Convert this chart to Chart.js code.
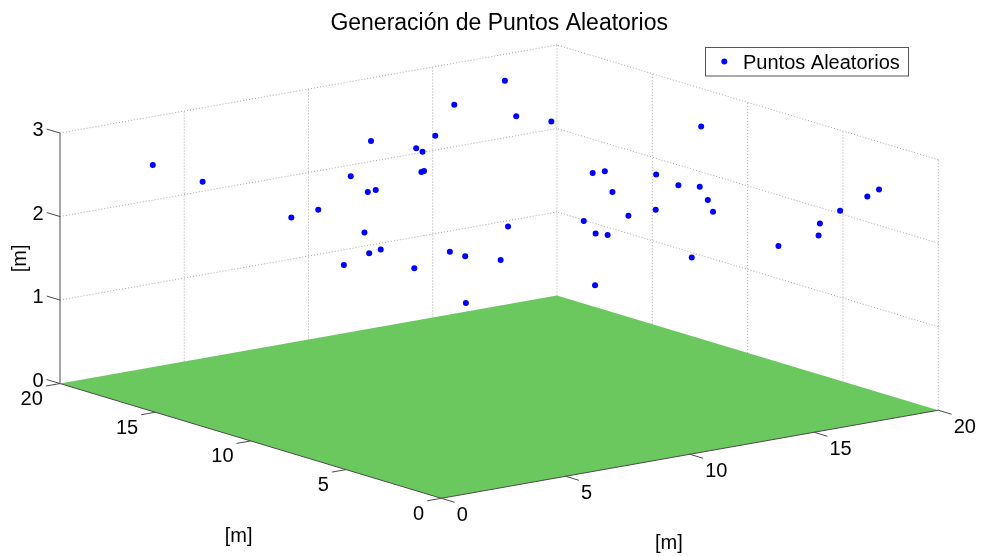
<!DOCTYPE html>
<html>
<head>
<meta charset="utf-8">
<title>Generación de Puntos Aleatorios</title>
<script src="https://cdn.jsdelivr.net/npm/chart.js@4.4.1/dist/chart.umd.min.js"></script>
<style>
    html, body { margin: 0; padding: 0; background: #fff; }
</style>
</head>
<body>
<canvas id="puntos" width="985" height="556"></canvas>
<script>
// Limites y marcas de los ejes
var xLim = [0, 20],
    yLim = [0, 20],
    zLim = [0, 3];
var xTicks = [0, 5, 10, 15, 20],
    yTicks = [0, 5, 10, 15, 20],
    zTicks = [0, 1, 2, 3];

// Vista 3D por defecto (azimut, elevacion) en grados
var vistaAz = -37.5,
    vistaEl = 30;

// Puntos aleatorios [m]
var puntosX = [2.20, 2.67, 3.17, 8.09, 8.68, 6.33, 11.62, 5.80, 1.51, 7.84,
               0.63, 3.75, 5.05, 12.80, 8.45, 14.16, 11.58, 12.80, 15.10, 4.18,
               12.47, 16.37, 15.29, 15.17, 12.23, 15.02, 11.49, 15.55, 12.61, 15.77,
               12.26, 14.77, 16.30, 9.83, 14.94, 11.58, 7.46, 9.59, 3.92, 17.75,
               10.79, 18.13, 18.17, 18.25, 16.77, 18.35, 17.91, 19.15, 3.29];
var puntosY = [18, 16, 12, 17, 15, 13, 19, 11, 6, 14,
               4, 10, 8, 18, 12, 19.5, 16, 17, 19, 5,
               15, 18, 16, 14, 8, 11, 6, 9, 4, 7,
               2, 5, 10, 3, 12, 7, 1, 9, 2, 10,
               6, 10, 6, 4, 2, 3, 1, 2, 3];
var puntosZ = [2.64, 2.55, 2.37, 1.86, 2.79, 2.63, 1.75, 2.63, 2.69, 1.56,
               2.67, 1.91, 1.94, 2.28, 2.88, 1.82, 2.21, 2.50, 2.61, 2.39,
               1.21, 2.90, 2.67, 2.75, 2.70, 2.37, 2.65, 2.44, 2.81, 2.42,
               2.79, 2.31, 1.91, 2.66, 1.71, 2.08, 2.69, 2.13, 2.51, 1.26,
               1.57, 2.81, 1.65, 1.91, 2.27, 2.27, 2.60, 2.55, 1.96];

var titulo = 'Generación de Puntos Aleatorios',
    leyenda = 'Puntos Aleatorios',
    etiquetaEje = '[m]';

var colorPuntos = '#0000ff',
    colorSuelo = 'rgb(106,200,94)',
    colorEje = '#4a4a4a',
    colorRejilla = '#a6a6a6',
    fuente = '"Liberation Sans", Arial, Helvetica, sans-serif';

// longitud de las marcas, en unidades de datos
var largoMarca = {x: 0.7, y: 0.57, z: 0.7};

/**
 * Proyeccion ortografica (como view(az, el)) sobre la caja normalizada.
 * @return {Object} punto {x, y} en coordenadas de vista
 */
function proyectar(x, y, z) {
    var az = vistaAz * Math.PI / 180,
        el = vistaEl * Math.PI / 180,
        nx = (x - xLim[0]) / (xLim[1] - xLim[0]),
        ny = (y - yLim[0]) / (yLim[1] - yLim[0]),
        nz = (z - zLim[0]) / (zLim[1] - zLim[0]);

    return {
        x: Math.cos(az) * nx + Math.sin(az) * ny,
        y: -Math.sin(el) * Math.sin(az) * nx + Math.sin(el) * Math.cos(az) * ny + Math.cos(el) * nz
    };
}

// extension de la caja en coordenadas de vista
var vista = {xMin: Infinity, xMax: -Infinity, yMin: Infinity, yMax: -Infinity};
[xLim[0], xLim[1]].forEach(function(x) {
    [yLim[0], yLim[1]].forEach(function(y) {
        [zLim[0], zLim[1]].forEach(function(z) {
            var p = proyectar(x, y, z);
            vista.xMin = Math.min(vista.xMin, p.x);
            vista.xMax = Math.max(vista.xMax, p.x);
            vista.yMin = Math.min(vista.yMin, p.y);
            vista.yMax = Math.max(vista.yMax, p.y);
        });
    });
});

function segmento(a, b, color, dash, orden) {
    return {
        data: [proyectar(a[0], a[1], a[2]), proyectar(b[0], b[1], b[2])],
        showLine: true,
        borderColor: color,
        borderWidth: 1,
        borderDash: dash,
        pointRadius: 0,
        pointHoverRadius: 0,
        order: orden,
        clip: false
    };
}

var x0 = xLim[0], x1 = xLim[1], y0 = yLim[0], y1 = yLim[1], z0 = zLim[0], z1 = zLim[1];
var datasets = [];

// puntos
datasets.push({
    label: leyenda,
    data: puntosX.map(function(x, i) { return proyectar(x, puntosY[i], puntosZ[i]); }),
    pointRadius: 3,
    pointHoverRadius: 3,
    pointBackgroundColor: colorPuntos,
    pointBorderWidth: 0,
    showLine: false,
    order: 0,
    clip: false
});

// ejes y marcas
datasets.push(segmento([x0, y1, z0], [x0, y1, z1], colorEje, [], 1));
datasets.push(segmento([x0, y0, z0], [x0, y1, z0], colorEje, [], 1));
datasets.push(segmento([x0, y0, z0], [x1, y0, z0], colorEje, [], 1));
zTicks.forEach(function(t) {
    datasets.push(segmento([x0, y1, t], [x0, y1 + largoMarca.z, t], colorEje, [], 1));
});
yTicks.forEach(function(t) {
    datasets.push(segmento([x0, t, z0], [x0 - largoMarca.y, t, z0], colorEje, [], 1));
});
xTicks.forEach(function(t) {
    datasets.push(segmento([t, y0, z0], [t, y0 - largoMarca.x, z0], colorEje, [], 1));
});

// suelo
var esquinas = [[x0, y0], [x1, y0], [x1, y1], [x0, y1], [x0, y0]];
datasets.push({
    data: esquinas.map(function(e) { return proyectar(e[0], e[1], z0); }),
    showLine: true,
    fill: 'shape',
    backgroundColor: colorSuelo,
    borderColor: colorSuelo,
    borderWidth: 0,
    pointRadius: 0,
    pointHoverRadius: 0,
    order: 2,
    clip: false
});

// rejilla de las paredes del fondo
xTicks.forEach(function(t) {
    if (t === x0) return;
    datasets.push(segmento([t, y1, z0], [t, y1, z1], colorRejilla, [1, 2], 3));
});
yTicks.forEach(function(t) {
    if (t === y1) return;
    datasets.push(segmento([x1, t, z0], [x1, t, z1], colorRejilla, [1, 2], 3));
});
zTicks.forEach(function(t) {
    if (t === z0) return;
    datasets.push(segmento([x0, y1, t], [x1, y1, t], colorRejilla, [1, 2], 3));
    datasets.push(segmento([x1, y0, t], [x1, y1, t], colorRejilla, [1, 2], 3));
});

// Textos: titulo, rotulos de las marcas, etiquetas de ejes y leyenda
var textosPlugin = {
    id: 'textos3d',
    afterDraw: function(chart) {
        var ctx = chart.ctx,
            sx = chart.scales.x,
            sy = chart.scales.y;

        function pixel(x, y, z) {
            var p = proyectar(x, y, z);
            return {x: sx.getPixelForValue(p.x), y: sy.getPixelForValue(p.y)};
        }

        ctx.save();
        ctx.fillStyle = '#000';
        ctx.textBaseline = 'alphabetic';

        // rotulos
        ctx.font = '20px ' + fuente;
        ctx.textAlign = 'right';
        zTicks.forEach(function(t) {
            var e = pixel(x0, y1 + largoMarca.z, t);
            ctx.fillText(String(t), e.x - 3, e.y + 7);
        });
        yTicks.forEach(function(t) {
            var e = pixel(x0 - largoMarca.y, t, z0);
            ctx.fillText(String(t), e.x - 3, e.y + 19);
        });
        ctx.textAlign = 'left';
        xTicks.forEach(function(t) {
            var e = pixel(t, y0 - largoMarca.x, z0);
            ctx.fillText(String(t), e.x + 2, e.y + 19);
        });

        // etiquetas de ejes
        ctx.textAlign = 'center';
        var mx = pixel((x0 + x1) / 2, y0, z0);
        ctx.fillText(etiquetaEje, mx.x - 21, mx.y + 95);
        var my = pixel(x0, (y0 + y1) / 2, z0);
        ctx.fillText(etiquetaEje, my.x - 12, my.y + 101);
        var mz = pixel(x0, y1, (z0 + z1) / 2);
        ctx.save();
        ctx.translate(mz.x - 41, mz.y);
        ctx.rotate(-Math.PI / 2);
        ctx.fillText(etiquetaEje, 0, 7);
        ctx.restore();

        // titulo
        ctx.font = '23px ' + fuente;
        ctx.fillText(titulo, (chart.chartArea.left + chart.chartArea.right) / 2, 30);

        // leyenda
        ctx.fillStyle = '#fff';
        ctx.fillRect(705.5, 47.5, 203, 28.5);
        ctx.strokeStyle = '#555';
        ctx.lineWidth = 1;
        ctx.strokeRect(705.5, 47.5, 203, 28.5);
        ctx.fillStyle = colorPuntos;
        ctx.beginPath();
        ctx.arc(724.3, 61.5, 3, 0, Math.PI * 2);
        ctx.fill();
        ctx.fillStyle = '#000';
        ctx.textAlign = 'left';
        ctx.font = '20px ' + fuente;
        ctx.fillText(leyenda, 743, 68.7);

        ctx.restore();
    }
};

new Chart(document.getElementById('puntos').getContext('2d'), {
    type: 'scatter',
    data: {datasets: datasets},
    options: {
        responsive: false,
        animation: false,
        events: [],
        layout: {
            padding: {left: 60, right: 46.7, top: 45, bottom: 57.7}
        },
        scales: {
            x: {type: 'linear', display: false, min: vista.xMin, max: vista.xMax},
            y: {type: 'linear', display: false, min: vista.yMin, max: vista.yMax}
        },
        plugins: {
            legend: {display: false},
            title: {display: false},
            tooltip: {enabled: false}
        }
    },
    plugins: [textosPlugin]
});
</script>
</body>
</html>
